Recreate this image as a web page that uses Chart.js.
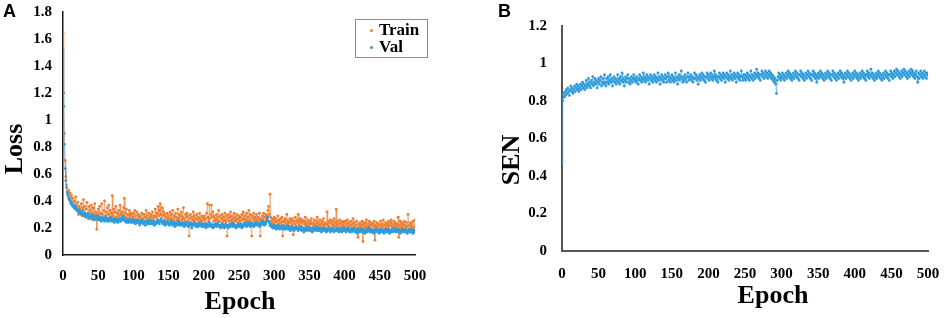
<!DOCTYPE html>
<html>
<head>
<meta charset="utf-8">
<script src="https://cdn.jsdelivr.net/npm/chart.js@4.4.1/dist/chart.umd.min.js"></script>
<style>
    html, body { margin: 0; padding: 0; background: #fff; }
    #page { position: relative; width: 948px; height: 318px; overflow: hidden; }
    .panel { position: absolute; top: 0; width: 474px; height: 318px; }
    .tag { position: absolute; top: 1px; font: bold 18px "Liberation Sans", Arial, sans-serif; color: #000; }
    .legend {
        position: absolute; left: 355px; top: 19px; width: 71px; height: 37px;
        border: 1px solid #8c8c8c; background: #fff;
        font: bold 17px "Liberation Serif", "Times New Roman", serif; color: #000;
    }
    .legend div { position: absolute; left: 23px; line-height: 18px; }
    .legend span { position: absolute; left: -9px; top: 8px; width: 3px; height: 3px; border-radius: 50%; }
</style>
</head>
<body>
<div id="page">
    <div class="panel" style="left:0"><canvas id="lossChart" width="474" height="318"></canvas></div>
    <div class="panel" style="left:474px"><canvas id="senChart" width="474" height="318"></canvas></div>
    <div class="tag" style="left:3px">A</div>
    <div class="tag" style="left:498px">B</div>
    <div class="legend">
        <div style="top:1px"><span style="background:#ED7D31"></span>Train</div>
        <div style="top:18px"><span style="background:#2E9CDB"></span>Val</div>
    </div>
</div>
<script>
// epochs 0..500
const epochs = Array.from({ length: 501 }, (_, i) => i);
const lossTicks = [0, 0.2, 0.4, 0.6, 0.8, 1, 1.2, 1.4, 1.6, 1.8];
const senTicks = [0, 0.2, 0.4, 0.6, 0.8, 1, 1.2];
const epochTicks = [0, 50, 100, 150, 200, 250, 300, 350, 400, 450, 500];

// values, one per epoch
const trainLoss = [
    1.65, 1.20, 0.90, 0.70, 0.58, 0.52, 0.47, 0.45, 0.48, 0.43, 0.46, 0.40, 0.44, 0.38, 0.42, 0.36, 0.40, 0.34, 0.43, 0.37, 0.33, 0.39, 0.30, 0.36, 0.34,
    0.32, 0.38, 0.29, 0.35, 0.41, 0.31, 0.36, 0.28, 0.34, 0.39, 0.30, 0.27, 0.36, 0.33, 0.29, 0.37, 0.31, 0.26, 0.35, 0.30, 0.38, 0.28, 0.32, 0.19, 0.30,
    0.34, 0.29, 0.36, 0.27, 0.31, 0.38, 0.30, 0.26, 0.33, 0.40, 0.29, 0.32, 0.27, 0.35, 0.30, 0.37, 0.28, 0.33, 0.26, 0.31, 0.44, 0.29, 0.34, 0.27, 0.32,
    0.36, 0.28, 0.31, 0.25, 0.33, 0.29, 0.37, 0.30, 0.26, 0.32, 0.29, 0.35, 0.42, 0.31, 0.28, 0.34, 0.27, 0.30, 0.25, 0.33, 0.29, 0.31, 0.26, 0.30, 0.28,
    0.31, 0.27, 0.33, 0.29, 0.26, 0.32, 0.24, 0.30, 0.28, 0.22, 0.29, 0.26, 0.31, 0.27, 0.24, 0.30, 0.28, 0.25, 0.33, 0.27, 0.29, 0.23, 0.31, 0.26, 0.28,
    0.30, 0.25, 0.32, 0.27, 0.29, 0.24, 0.34, 0.28, 0.31, 0.26, 0.36, 0.29, 0.33, 0.38, 0.30, 0.27, 0.35, 0.29, 0.32, 0.26, 0.30, 0.28, 0.25, 0.31, 0.27,
    0.29, 0.26, 0.32, 0.24, 0.30, 0.27, 0.33, 0.25, 0.29, 0.23, 0.31, 0.28, 0.26, 0.34, 0.27, 0.30, 0.24, 0.29, 0.32, 0.26, 0.28, 0.35, 0.27, 0.25, 0.30,
    0.28, 0.31, 0.25, 0.29, 0.14, 0.27, 0.30, 0.24, 0.28, 0.26, 0.32, 0.25, 0.29, 0.27, 0.23, 0.30, 0.26, 0.28, 0.24, 0.31, 0.27, 0.25, 0.29, 0.23, 0.28,
    0.26, 0.29, 0.24, 0.27, 0.31, 0.38, 0.28, 0.25, 0.37, 0.27, 0.30, 0.37, 0.28, 0.32, 0.25, 0.29, 0.27, 0.23, 0.30, 0.26, 0.28, 0.33, 0.25, 0.29, 0.22,
    0.27, 0.30, 0.24, 0.28, 0.26, 0.31, 0.25, 0.29, 0.14, 0.27, 0.30, 0.25, 0.28, 0.32, 0.26, 0.29, 0.24, 0.27, 0.31, 0.25, 0.28, 0.26, 0.30, 0.24, 0.27,
    0.29, 0.25, 0.28, 0.23, 0.30, 0.26, 0.32, 0.27, 0.24, 0.29, 0.26, 0.31, 0.25, 0.28, 0.33, 0.26, 0.30, 0.24, 0.14, 0.29, 0.27, 0.31, 0.25, 0.28, 0.26,
    0.30, 0.24, 0.28, 0.26, 0.31, 0.14, 0.27, 0.25, 0.29, 0.26, 0.31, 0.24, 0.28, 0.30, 0.27, 0.29, 0.33, 0.36, 0.30, 0.45, 0.28, 0.25, 0.27, 0.23, 0.26,
    0.28, 0.24, 0.27, 0.22, 0.25, 0.29, 0.23, 0.26, 0.21, 0.27, 0.24, 0.28, 0.14, 0.25, 0.22, 0.27, 0.24, 0.26, 0.30, 0.23, 0.25, 0.21, 0.27, 0.24, 0.26,
    0.22, 0.27, 0.15, 0.25, 0.23, 0.28, 0.21, 0.26, 0.24, 0.30, 0.22, 0.25, 0.27, 0.21, 0.24, 0.26, 0.20, 0.25, 0.23, 0.28, 0.22, 0.24, 0.19, 0.26, 0.23,
    0.21, 0.25, 0.23, 0.27, 0.20, 0.24, 0.22, 0.26, 0.19, 0.23, 0.25, 0.28, 0.21, 0.24, 0.22, 0.26, 0.20, 0.23, 0.25, 0.21, 0.27, 0.22, 0.24, 0.20, 0.23,
    0.32, 0.22, 0.25, 0.21, 0.24, 0.26, 0.20, 0.23, 0.25, 0.22, 0.27, 0.21, 0.24, 0.34, 0.22, 0.25, 0.20, 0.23, 0.26, 0.21, 0.24, 0.19, 0.25, 0.22, 0.24,
    0.21, 0.25, 0.20, 0.23, 0.26, 0.21, 0.24, 0.19, 0.22, 0.25, 0.20, 0.23, 0.27, 0.21, 0.24, 0.19, 0.22, 0.25, 0.20, 0.13, 0.23, 0.21, 0.24, 0.20, 0.22,
    0.25, 0.10, 0.23, 0.20, 0.24, 0.21, 0.26, 0.19, 0.23, 0.21, 0.25, 0.20, 0.22, 0.24, 0.19, 0.23, 0.21, 0.25, 0.11, 0.22, 0.20, 0.24, 0.21, 0.23, 0.19,
    0.22, 0.25, 0.20, 0.23, 0.21, 0.26, 0.19, 0.22, 0.24, 0.20, 0.23, 0.21, 0.25, 0.19, 0.22, 0.24, 0.26, 0.21, 0.23, 0.20, 0.25, 0.22, 0.24, 0.19, 0.23,
    0.21, 0.28, 0.13, 0.22, 0.25, 0.20, 0.24, 0.21, 0.23, 0.19, 0.25, 0.22, 0.20, 0.24, 0.21, 0.30, 0.22, 0.19, 0.24, 0.21, 0.23, 0.20, 0.25, 0.21, 0.19,
    0.26
];

const valLoss = [
    1.52, 1.10, 0.82, 0.64, 0.55, 0.50, 0.46, 0.44, 0.42, 0.41, 0.40, 0.38, 0.39, 0.37, 0.36, 0.37, 0.35, 0.36, 0.34, 0.35, 0.33, 0.34, 0.32, 0.33, 0.31,
    0.32, 0.30, 0.31, 0.33, 0.30, 0.29, 0.31, 0.30, 0.28, 0.30, 0.29, 0.31, 0.28, 0.27, 0.29, 0.30, 0.28, 0.27, 0.29, 0.28, 0.26, 0.28, 0.29, 0.27, 0.28,
    0.26, 0.27, 0.28, 0.26, 0.25, 0.27, 0.28, 0.26, 0.27, 0.25, 0.26, 0.28, 0.27, 0.25, 0.26, 0.27, 0.25, 0.26, 0.28, 0.26, 0.25, 0.27, 0.26, 0.24, 0.26,
    0.27, 0.25, 0.26, 0.24, 0.25, 0.27, 0.26, 0.25, 0.27, 0.28, 0.26, 0.29, 0.27, 0.25, 0.26, 0.24, 0.25, 0.26, 0.24, 0.25, 0.27, 0.25, 0.24, 0.26, 0.25,
    0.24, 0.26, 0.25, 0.23, 0.25, 0.24, 0.26, 0.25, 0.24, 0.23, 0.25, 0.24, 0.26, 0.24, 0.23, 0.25, 0.24, 0.22, 0.24, 0.25, 0.23, 0.24, 0.26, 0.24, 0.23,
    0.25, 0.24, 0.23, 0.25, 0.24, 0.22, 0.24, 0.23, 0.25, 0.24, 0.26, 0.24, 0.23, 0.25, 0.27, 0.25, 0.24, 0.23, 0.25, 0.24, 0.22, 0.24, 0.23, 0.25, 0.24,
    0.23, 0.22, 0.24, 0.23, 0.25, 0.23, 0.22, 0.24, 0.23, 0.21, 0.23, 0.24, 0.22, 0.23, 0.25, 0.23, 0.22, 0.24, 0.23, 0.22, 0.24, 0.23, 0.21, 0.23, 0.22,
    0.24, 0.22, 0.23, 0.21, 0.22, 0.24, 0.23, 0.22, 0.20, 0.22, 0.23, 0.22, 0.24, 0.22, 0.21, 0.23, 0.22, 0.21, 0.23, 0.22, 0.24, 0.22, 0.21, 0.23, 0.22,
    0.21, 0.23, 0.22, 0.20, 0.22, 0.23, 0.21, 0.22, 0.24, 0.22, 0.21, 0.23, 0.22, 0.20, 0.22, 0.21, 0.23, 0.22, 0.21, 0.23, 0.24, 0.22, 0.21, 0.22, 0.20,
    0.22, 0.23, 0.21, 0.22, 0.20, 0.21, 0.23, 0.22, 0.21, 0.22, 0.20, 0.22, 0.23, 0.21, 0.22, 0.24, 0.22, 0.21, 0.23, 0.22, 0.21, 0.20, 0.22, 0.21, 0.23,
    0.22, 0.21, 0.23, 0.22, 0.20, 0.22, 0.21, 0.23, 0.22, 0.24, 0.22, 0.21, 0.23, 0.22, 0.24, 0.23, 0.21, 0.22, 0.24, 0.23, 0.22, 0.21, 0.23, 0.22, 0.24,
    0.23, 0.22, 0.24, 0.23, 0.21, 0.23, 0.22, 0.24, 0.23, 0.25, 0.23, 0.22, 0.24, 0.23, 0.25, 0.26, 0.28, 0.25, 0.24, 0.22, 0.23, 0.21, 0.22, 0.20, 0.21,
    0.22, 0.20, 0.21, 0.19, 0.21, 0.20, 0.22, 0.20, 0.19, 0.21, 0.20, 0.22, 0.21, 0.19, 0.20, 0.21, 0.19, 0.20, 0.22, 0.20, 0.19, 0.21, 0.20, 0.18, 0.20,
    0.21, 0.19, 0.20, 0.18, 0.20, 0.19, 0.21, 0.20, 0.19, 0.18, 0.20, 0.19, 0.21, 0.19, 0.18, 0.20, 0.19, 0.17, 0.19, 0.20, 0.18, 0.19, 0.21, 0.19, 0.18,
    0.19, 0.20, 0.18, 0.19, 0.17, 0.19, 0.20, 0.18, 0.19, 0.21, 0.19, 0.18, 0.20, 0.19, 0.18, 0.20, 0.19, 0.17, 0.19, 0.18, 0.20, 0.19, 0.18, 0.19, 0.17,
    0.19, 0.18, 0.20, 0.19, 0.18, 0.17, 0.19, 0.18, 0.20, 0.19, 0.17, 0.18, 0.19, 0.18, 0.20, 0.19, 0.18, 0.17, 0.19, 0.18, 0.19, 0.17, 0.18, 0.20, 0.18,
    0.19, 0.18, 0.17, 0.19, 0.18, 0.20, 0.18, 0.17, 0.19, 0.18, 0.17, 0.19, 0.18, 0.20, 0.18, 0.17, 0.19, 0.18, 0.16, 0.18, 0.19, 0.17, 0.18, 0.19, 0.17,
    0.18, 0.19, 0.17, 0.18, 0.16, 0.18, 0.19, 0.17, 0.18, 0.20, 0.18, 0.17, 0.19, 0.18, 0.17, 0.18, 0.16, 0.18, 0.19, 0.17, 0.18, 0.19, 0.17, 0.18, 0.16,
    0.18, 0.17, 0.19, 0.18, 0.17, 0.18, 0.16, 0.18, 0.19, 0.17, 0.18, 0.17, 0.19, 0.18, 0.16, 0.18, 0.17, 0.19, 0.18, 0.17, 0.18, 0.20, 0.18, 0.17, 0.19,
    0.18, 0.17, 0.19, 0.18, 0.16, 0.18, 0.17, 0.19, 0.18, 0.17, 0.18, 0.19, 0.17, 0.18, 0.16, 0.18, 0.19, 0.17, 0.18, 0.17, 0.19, 0.18, 0.16, 0.18, 0.17,
    0.18
];

const valSen = [
    0.47, 0.80, 0.84, 0.82, 0.85, 0.83, 0.86, 0.84, 0.87, 0.85, 0.83, 0.86, 0.88, 0.85, 0.87, 0.84, 0.86, 0.88, 0.85, 0.87, 0.89, 0.86, 0.88, 0.85, 0.87,
    0.89, 0.86, 0.88, 0.90, 0.87, 0.89, 0.86, 0.88, 0.91, 0.87, 0.89, 0.92, 0.88, 0.90, 0.87, 0.91, 0.89, 0.93, 0.88, 0.90, 0.92, 0.89, 0.91, 0.87, 0.90,
    0.92, 0.89, 0.91, 0.93, 0.88, 0.90, 0.92, 0.89, 0.94, 0.90, 0.88, 0.92, 0.90, 0.93, 0.89, 0.91, 0.94, 0.90, 0.92, 0.88, 0.91, 0.93, 0.90, 0.92, 0.89,
    0.91, 0.94, 0.90, 0.92, 0.89, 0.93, 0.91, 0.95, 0.90, 0.92, 0.88, 0.91, 0.93, 0.90, 0.92, 0.94, 0.90, 0.92, 0.89, 0.91, 0.93, 0.90, 0.92, 0.94, 0.91,
    0.92, 0.90, 0.93, 0.91, 0.89, 0.92, 0.94, 0.91, 0.93, 0.90, 0.92, 0.95, 0.91, 0.93, 0.90, 0.92, 0.94, 0.91, 0.93, 0.89, 0.92, 0.94, 0.91, 0.93, 0.90,
    0.92, 0.94, 0.91, 0.93, 0.90, 0.92, 0.95, 0.91, 0.93, 0.89, 0.92, 0.94, 0.91, 0.93, 0.90, 0.92, 0.94, 0.92, 0.90, 0.93, 0.95, 0.91, 0.93, 0.90, 0.92,
    0.94, 0.91, 0.93, 0.90, 0.92, 0.95, 0.91, 0.93, 0.89, 0.92, 0.94, 0.91, 0.93, 0.96, 0.92, 0.90, 0.93, 0.91, 0.94, 0.92, 0.90, 0.93, 0.95, 0.91, 0.93,
    0.92, 0.94, 0.91, 0.93, 0.90, 0.92, 0.95, 0.92, 0.94, 0.91, 0.93, 0.89, 0.92, 0.94, 0.91, 0.93, 0.95, 0.92, 0.94, 0.91, 0.93, 0.90, 0.93, 0.95, 0.92,
    0.94, 0.91, 0.93, 0.95, 0.92, 0.94, 0.91, 0.93, 0.96, 0.92, 0.94, 0.91, 0.93, 0.90, 0.93, 0.95, 0.92, 0.94, 0.91, 0.93, 0.95, 0.92, 0.94, 0.90, 0.93,
    0.95, 0.92, 0.94, 0.91, 0.93, 0.96, 0.92, 0.94, 0.91, 0.93, 0.95, 0.92, 0.94, 0.90, 0.93, 0.95, 0.92, 0.94, 0.91, 0.93, 0.96, 0.93, 0.91, 0.94, 0.92,
    0.94, 0.91, 0.93, 0.95, 0.92, 0.94, 0.91, 0.93, 0.96, 0.92, 0.94, 0.91, 0.93, 0.95, 0.92, 0.94, 0.97, 0.93, 0.95, 0.92, 0.94, 0.91, 0.94, 0.96, 0.93,
    0.95, 0.92, 0.94, 0.96, 0.93, 0.95, 0.92, 0.94, 0.96, 0.93, 0.95, 0.92, 0.94, 0.91, 0.93, 0.90, 0.92, 0.89, 0.84, 0.91, 0.93, 0.95, 0.92, 0.94, 0.91,
    0.93, 0.95, 0.92, 0.94, 0.91, 0.93, 0.95, 0.92, 0.94, 0.96, 0.93, 0.95, 0.92, 0.94, 0.91, 0.93, 0.95, 0.92, 0.94, 0.96, 0.93, 0.95, 0.92, 0.94, 0.91,
    0.94, 0.96, 0.93, 0.95, 0.92, 0.94, 0.91, 0.93, 0.95, 0.92, 0.94, 0.96, 0.93, 0.95, 0.92, 0.94, 0.91, 0.94, 0.96, 0.93, 0.95, 0.92, 0.94, 0.90, 0.93,
    0.95, 0.92, 0.94, 0.96, 0.93, 0.95, 0.92, 0.94, 0.91, 0.93, 0.95, 0.92, 0.94, 0.96, 0.93, 0.95, 0.92, 0.94, 0.91, 0.94, 0.96, 0.93, 0.95, 0.92, 0.94,
    0.91, 0.93, 0.95, 0.92, 0.94, 0.96, 0.93, 0.95, 0.92, 0.94, 0.90, 0.93, 0.95, 0.92, 0.94, 0.96, 0.93, 0.95, 0.92, 0.94, 0.91, 0.93, 0.95, 0.92, 0.94,
    0.96, 0.93, 0.95, 0.92, 0.94, 0.91, 0.93, 0.95, 0.92, 0.94, 0.96, 0.93, 0.95, 0.92, 0.94, 0.91, 0.94, 0.96, 0.93, 0.95, 0.92, 0.94, 0.97, 0.93, 0.95,
    0.92, 0.94, 0.91, 0.93, 0.95, 0.92, 0.94, 0.96, 0.93, 0.95, 0.92, 0.94, 0.91, 0.93, 0.95, 0.92, 0.94, 0.96, 0.93, 0.95, 0.92, 0.94, 0.91, 0.94, 0.96,
    0.93, 0.95, 0.92, 0.94, 0.96, 0.93, 0.95, 0.97, 0.94, 0.96, 0.93, 0.95, 0.92, 0.94, 0.96, 0.93, 0.95, 0.97, 0.94, 0.96, 0.93, 0.95, 0.92, 0.94, 0.96,
    0.93, 0.95, 0.97, 0.94, 0.96, 0.93, 0.95, 0.92, 0.94, 0.96, 0.93, 0.90, 0.95, 0.92, 0.94, 0.96, 0.93, 0.95, 0.92, 0.94, 0.96, 0.93, 0.95, 0.92, 0.94,
    0.95
];

const ORANGE = '#ED7D31';
const BLUE = '#2E9CDB';
const SERIF = '"Liberation Serif", "Times New Roman", serif';

function toPoints(values) {
    return epochs.map((e, i) => ({ x: e, y: values[i] }));
}

function series(label, values, color, order) {
    return {
        label: label,
        data: toPoints(values),
        showLine: true,
        borderColor: color,
        backgroundColor: color,
        borderWidth: 0.5,
        pointRadius: 1.4,
        pointBorderWidth: 0,
        order: order
    };
}

// axis titles sit off-centre in the figure, so they are drawn here
const axisTitles = {
    id: 'axisTitles',
    afterDraw(chart, args, opts) {
        const ctx = chart.ctx;
        ctx.save();
        ctx.font = 'bold 26px ' + SERIF;
        ctx.fillStyle = '#000';
        ctx.textAlign = 'center';
        ctx.textBaseline = 'middle';
        ctx.fillText(opts.xText, opts.xAt[0], opts.xAt[1]);
        ctx.translate(opts.yAt[0], opts.yAt[1]);
        ctx.rotate(-Math.PI / 2);
        ctx.fillText(opts.yText, 0, 0);
        ctx.restore();
    }
};

// axis layout: fixed sizes so the plot box sits where it does in the figure
function buildScales(cfg) {
    const tickList = cfg.yTicks;
    return {
        x: {
            type: 'linear',
            min: 0,
            max: 500,
            afterBuildTicks: (axis) => { axis.ticks = epochTicks.map(v => ({ value: v })); },
            afterFit: (axis) => {
                axis.height = cfg.xHeight;
                axis.paddingLeft = 0;
                axis.paddingRight = 0;
            },
            grid: { display: false, drawTicks: false },
            border: { display: true, color: cfg.axisColor, width: cfg.axisWidth },
            ticks: {
                color: '#000',
                padding: cfg.xPad,
                maxRotation: 0,
                font: { family: SERIF, size: 15, weight: 'bold' }
            }
        },
        y: {
            min: 0,
            max: tickList[tickList.length - 1],
            afterBuildTicks: (axis) => { axis.ticks = tickList.map(v => ({ value: v })); },
            afterFit: (axis) => {
                axis.width = cfg.yWidth;
                axis.paddingTop = 0;
                axis.paddingBottom = 0;
            },
            grid: { display: false, drawTicks: false },
            border: { display: true, color: cfg.axisColor, width: cfg.axisWidth },
            ticks: {
                color: '#000',
                padding: cfg.yPad,
                font: { family: SERIF, size: 15, weight: 'bold' },
                callback: (v) => String(+v.toFixed(1))
            }
        }
    };
}

function makeChart(id, datasets, cfg) {
    return new Chart(id, {
        type: 'scatter',
        data: { datasets: datasets },
        options: {
            responsive: false,
            animation: false,
            layout: { padding: cfg.padding },
            plugins: {
                legend: { display: false },
                tooltip: { enabled: false },
                axisTitles: cfg.titles
            },
            scales: buildScales(cfg)
        },
        plugins: [axisTitles]
    });
}

makeChart('lossChart', [
    series('Train', trainLoss, ORANGE, 1),
    series('Val', valLoss, BLUE, 0)
], {
    yTicks: lossTicks,
    padding: { left: 1, right: 59, top: 12, bottom: 0 },
    yWidth: 62,
    xHeight: 63,
    xPad: 12,
    yPad: 11,
    axisColor: '#1a1a1a',
    axisWidth: 1.5,
    titles: { xText: 'Epoch', xAt: [240, 302], yText: 'Loss', yAt: [15, 149] }
});

makeChart('senChart', [
    series('Val', valSen, BLUE, 0)
], {
    yTicks: senTicks,
    padding: { left: 25, right: 20, top: 26, bottom: 0 },
    yWidth: 63,
    xHeight: 67,
    xPad: 14,
    yPad: 15,
    axisColor: '#555',
    axisWidth: 2,
    titles: { xText: 'Epoch', xAt: [299, 296], yText: 'SEN', yAt: [38, 160] }
});
</script>
</body>
</html>
